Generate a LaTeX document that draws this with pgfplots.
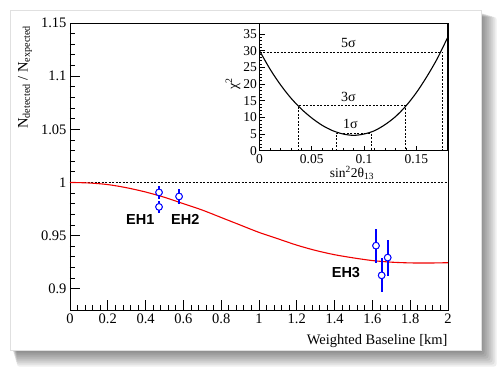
\documentclass[border=0pt]{standalone}
\usepackage{pgfplots}
\pgfplotsset{compat=1.18}
\usepackage{fontspec}
\setmainfont{Liberation Serif}
\newfontfamily\hv{Liberation Sans}
\definecolor{rootblue}{RGB}{0,0,255}
\definecolor{rootred}{RGB}{240,0,0}
\begin{document}
\begin{tikzpicture}
\useasboundingbox (0pt,0pt) rectangle (500pt,371pt);
\fill[white] (0pt,0pt) rectangle (500pt,371pt);
% shadow
\foreach \d in {16,14,12,10,8,6,4,2} {
  \fill[black,opacity=0.065,rounded corners=3pt] ({12pt+0.3*\d pt},{20.3pt-\d pt}) rectangle ({480.7pt+\d pt},{359pt-0.3*\d pt});
}
\fill[white] (10pt,20.3pt) rectangle (480.7pt,361pt);
\draw[black!12,line width=0.4pt] (10pt,20.3pt) rectangle (480.7pt,361pt);

\begin{axis}[
  at={(70pt,61pt)}, anchor=south west,
  scale only axis, width=378pt, height=287pt,
  xmin=0, xmax=2, ymin=0.88, ymax=1.15,
  xtick={0,0.2,0.4,0.6,0.8,1,1.2,1.4,1.6,1.8,2},
  ytick={0.9,0.95,1,1.05,1.1,1.15},
  minor x tick num=4, minor y tick num=4,
  xtick pos=bottom, ytick pos=left,
  tick align=inside,
  major tick length=10pt, minor tick length=5pt,
  tick style={black, line width=0.8pt},
  axis line style={line width=0.8pt},
  ticklabel style={font=\fontsize{14.5}{14.5}\selectfont},
  /pgf/number format/assume math mode=true,
  /pgf/number format/fixed,
  clip=false,
]
\addplot[black, line width=0.7pt, dash pattern=on 2pt off 1.5pt] coordinates {(0,1) (2,1)};
\addplot[rootred, line width=1.1pt, smooth] coordinates {
(0,1.0) (0.1,0.9995) (0.2,0.998) (0.3,0.995) (0.4,0.991) (0.5,0.986)
(0.6,0.980) (0.7,0.974) (0.8,0.967) (0.9,0.960) (1.0,0.953) (1.1,0.947)
(1.2,0.941) (1.3,0.936) (1.4,0.932) (1.5,0.929) (1.6,0.9265) (1.7,0.925)
(1.8,0.9243) (1.9,0.9242) (2.0,0.9245)};
\addplot[only marks, mark=*, mark size=3.3pt,
  mark options={draw=rootblue, fill=white, line width=0.9pt},
  error bars/.cd, y dir=both, y explicit, error mark=none,
  error bar style={rootblue, line width=1.8pt}]
coordinates {
(0.471,0.9906) +- (0,0.006)
(0.471,0.977) +- (0,0.006)
(0.577,0.9868) +- (0,0.0068)
(1.619,0.9405) +- (0,0.016)
(1.649,0.9126) +- (0,0.016)
(1.681,0.9293) +- (0,0.017)
};
\addplot[only marks, mark=*, mark size=3.3pt,
  mark options={draw=rootblue, fill=white, line width=0.9pt}]
coordinates {(0.471,0.9906) (0.471,0.977) (0.577,0.9868) (1.619,0.9405) (1.649,0.9126) (1.681,0.9293)};
\node[font=\hv\bfseries\fontsize{14.5}{14.5}\selectfont] at (axis cs:0.372,0.9652) {EH1};
\node[font=\hv\bfseries\fontsize{14.5}{14.5}\selectfont] at (axis cs:0.61,0.9652) {EH2};
\node[font=\hv\bfseries\fontsize{14.5}{14.5}\selectfont] at (axis cs:1.46,0.915) {EH3};
\end{axis}

\begin{axis}[
  at={(259.5pt,220.3pt)}, anchor=south west,
  scale only axis, width=188.2pt, height=127.7pt,
  xmin=0, xmax=0.18, ymin=0, ymax=38.3,
  xtick={0,0.05,0.1,0.15},
  ytick={0,5,10,15,20,25,30,35},
  minor x tick num=4, minor y tick num=4,
  xtick pos=bottom, ytick pos=left,
  tick align=inside,
  major tick length=5pt, minor tick length=2.5pt,
  tick style={black, line width=0.6pt},
  axis line style={line width=0.8pt},
  axis background/.style={fill=white},
  ticklabel style={font=\fontsize{13.5}{13.5}\selectfont},
  xticklabel style={yshift=0pt},
  yticklabel style={xshift=1pt},
  /pgf/number format/assume math mode=true,
  /pgf/number format/fixed,
  clip=false,
]
\addplot[black, line width=0.7pt, dash pattern=on 2pt off 1.5pt] coordinates {(0,29.6) (0.175,29.6) (0.175,0)};
\addplot[black, line width=0.7pt, dash pattern=on 2pt off 1.5pt] coordinates {(0.0376,0) (0.0376,13.5) (0.1395,13.5) (0.1395,0)};
\addplot[black, line width=0.7pt, dash pattern=on 2pt off 1.5pt] coordinates {(0.0735,0) (0.0735,5.25) (0.1065,5.25) (0.1065,0)};
\addplot[black, line width=1.1pt, smooth] coordinates {
(0,30.0) (0.01,24.5) (0.02,19.8) (0.03,15.8) (0.04,12.5) (0.05,9.8)
(0.06,7.6) (0.07,6.0) (0.08,5.0) (0.09,4.6) (0.10,5.0) (0.11,6.0)
(0.12,7.8) (0.13,10.2) (0.14,13.4) (0.15,17.4) (0.16,22.2) (0.17,27.6) (0.18,34.0)};
\node[font=\fontsize{14}{14}\selectfont] at (axis cs:0.085,32.3) {5σ};
\node[font=\fontsize{14}{14}\selectfont] at (axis cs:0.085,16.1) {3σ};
\node[font=\fontsize{14}{14}\selectfont] at (axis cs:0.087,8.0) {1σ};
\end{axis}

\node[font=\fontsize{14.5}{14.5}\selectfont, anchor=east] at (451pt,30.3pt) {Weighted Baseline [km]};
\node[font=\fontsize{14.5}{14.5}\selectfont, rotate=90, anchor=east] at (25pt,349pt) {N\textsubscript{detected} / N\textsubscript{expected}};
\node[font=\fontsize{14}{14}\selectfont, rotate=90] at (233pt,287pt) {χ\textsuperscript{2}};
\node[font=\fontsize{13.5}{13.5}\selectfont] at (352pt,198pt) {sin\textsuperscript{2}2θ\textsubscript{13}};
\end{tikzpicture}
\end{document}
